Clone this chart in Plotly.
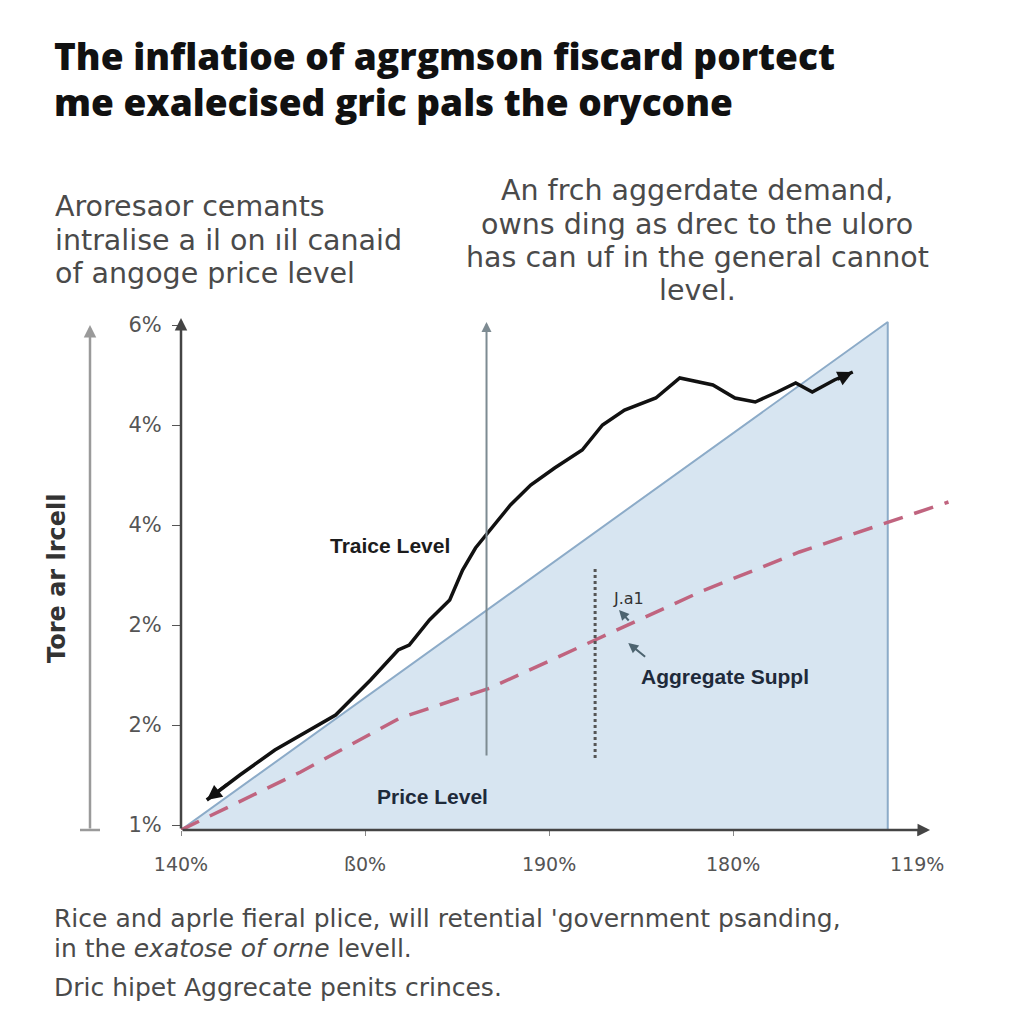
import plotly.graph_objects as go

# ---- data ----
x_ticks = [0, 1, 2, 3, 4]
x_labels = ["140%", "ß0%", "190%", "180%", "119%"]
y_ticks = [0, 1, 2, 3, 4, 5]
y_labels = ["1%", "2%", "2%", "4%", "4%", "6%"]

# black "Traice Level" curve
trace_x = [0.14, 0.32, 0.51, 0.65, 0.84, 1.03, 1.18, 1.24, 1.35, 1.46, 1.53, 1.60,
           1.69, 1.79, 1.90, 2.03, 2.18, 2.29, 2.41, 2.58, 2.71, 2.89, 3.01, 3.12,
           3.24, 3.34, 3.43, 3.55, 3.65]
trace_y = [0.25, 0.50, 0.75, 0.90, 1.10, 1.45, 1.75, 1.80, 2.05, 2.25, 2.55, 2.77,
           2.97, 3.20, 3.40, 3.57, 3.75, 4.00, 4.15, 4.27, 4.47, 4.40, 4.27, 4.23,
           4.33, 4.42, 4.33, 4.45, 4.53]

# dashed "Aggregate Supply" curve
supply_x = [0.0, 0.65, 1.19, 1.68, 2.25, 2.82, 3.36, 3.80, 4.17]
supply_y = [-0.05, 0.53, 1.07, 1.37, 1.85, 2.33, 2.73, 3.00, 3.23]

# shaded triangle
tri_x = [0.0, 3.84, 3.84, 0.0]
tri_y = [-0.05, 5.03, -0.05, -0.05]

title_lines = ["The inflatioe of agrgmson fiscard portect",
               "me exalecised gric pals the orycone"]
left_lines = ["Aroresaor cemants", "intralise a il on ıil canaid", "of angoge price level"]
right_lines = ["An frch aggerdate demand,", "owns ding as drec to the uloro",
               "has can uf in the general cannot", "level."]
foot_lines = ["Rice and aprle fieral plice, will retential 'government psanding,",
              "in the <i>exatose of orne</i> levell.",
              "Dric hipet Aggrecate penits crinces."]

# page has an 8px body margin; plot area in screen pixels
OFF = 8
L, T, W, H = 181, 315, 773, 515


def px(x):
    return (x - L) / W


def py(y):
    return (T + H - y) / H


fig = go.Figure()

fig.add_trace(go.Scatter(
    x=tri_x, y=tri_y, mode="lines", fill="toself",
    fillcolor="#d7e5f1", line=dict(color="#8cabc8", width=2),
    hoverinfo="skip", showlegend=False,
))
fig.add_trace(go.Scatter(
    x=supply_x, y=supply_y, mode="lines",
    line=dict(color="#c0647f", width=3.5, dash="20px,12px"),
    hoverinfo="skip", showlegend=False,
))
fig.add_trace(go.Scatter(
    x=trace_x, y=trace_y, mode="lines",
    line=dict(color="#111111", width=3.5),
    hoverinfo="skip", showlegend=False,
))
# vertical dotted line
fig.add_trace(go.Scatter(
    x=[2.25, 2.25], y=[0.67, 2.57], mode="lines",
    line=dict(color="#555555", width=3, dash="dot"),
    hoverinfo="skip", showlegend=False,
))

ann = []
arrow = dict(showarrow=True, text="", xref="x", yref="y", axref="x", ayref="y",
             arrowhead=2, arrowsize=1, arrowwidth=2.5)
# main axes
ann.append(dict(arrow, x=0, y=5.07, ax=0, ay=-0.05, arrowcolor="#444444"))
ann.append(dict(arrow, x=4.07, y=-0.05, ax=0, ay=-0.05, arrowcolor="#444444"))
# vertical gray arrow
ann.append(dict(arrow, x=1.66, y=5.03, ax=1.66, ay=0.68, arrowcolor="#7d8b92", arrowwidth=2))
# curve arrowheads
ann.append(dict(arrow, x=0.14, y=0.25, ax=0.26, ay=0.42, arrowcolor="#111111", arrowwidth=3))
ann.append(dict(arrow, x=3.65, y=4.53, ax=3.56, ay=4.45, arrowcolor="#111111", arrowwidth=3))
# small pointers near the supply label
ann.append(dict(arrow, x=2.43, y=1.82, ax=2.53, ay=1.67, arrowcolor="#4d6470", arrowwidth=2))
ann.append(dict(arrow, x=2.38, y=2.15, ax=2.44, ay=2.03, arrowcolor="#4d6470", arrowwidth=2))

# outer left arrow
ann.append(dict(showarrow=True, text="", xref="paper", yref="paper",
                x=px(90), y=py(325), ax=0, ay=505, arrowhead=2, arrowwidth=2.5,
                arrowcolor="#9a9a9a"))

gray = "#4a4a4a"
text_font = "DejaVu Sans"


def text_line(txt, x, y, size, color, family=text_font, anchor="left", weight=None):
    f = dict(family=family, size=size, color=color)
    if weight:
        f["weight"] = weight
    return dict(text=txt, x=px(x), y=py(y), xanchor=anchor, yanchor="middle",
                showarrow=False, xref="paper", yref="paper", font=f)


for txt, y in zip(title_lines, [55, 102]):
    ann.append(text_line(txt, 52, y, 37, "#111111", family="Open Sans", weight=800))
for txt, y in zip(left_lines, [206, 240, 273]):
    ann.append(text_line(txt, 53, y, 28.5, gray))
for txt, y in zip(right_lines, [190, 224, 257, 290]):
    ann.append(text_line(txt, 697, y, 28.5, gray, anchor="center"))
for txt, y in zip(foot_lines, [918, 948, 987]):
    ann.append(text_line(txt, 52, y, 25, gray))

ann += [
    dict(text="<b>Tore ar lrcell</b>", textangle=-90,
         x=px(57), y=py(578), xanchor="center", yanchor="middle",
         font=dict(family=text_font, size=24, color="#333333")),
    text_line("<b>Traice Level</b>", 390, 545, 21, "#1c1c1c",
              family="Liberation Sans Narrow, Liberation Sans", anchor="center"),
    text_line("<b>Price Level</b>", 432, 796, 21, "#1e2a3a",
              family="Liberation Sans Narrow, Liberation Sans", anchor="center"),
    text_line("<b>Aggregate Suppl</b>", 725, 676, 21, "#1e2a3a",
              family="Liberation Sans Narrow, Liberation Sans", anchor="center"),
    text_line("J.a1", 628, 598, 16, "#333333", anchor="center"),
]
for a in ann:
    a.setdefault("showarrow", False)
    if "xref" not in a:
        a["xref"] = "paper"
        a["yref"] = "paper"

fig.update_layout(
    width=1024, height=1024,
    margin=dict(l=L - OFF, r=1024 - L - W + OFF, t=T - OFF, b=1024 - T - H + OFF),
    paper_bgcolor="white", plot_bgcolor="white",
    showlegend=False,
    annotations=ann,
    shapes=[dict(type="line", xref="paper", yref="paper",
                 x0=px(80), x1=px(100), y0=py(830), y1=py(830),
                 line=dict(color="#9a9a9a", width=2.5))],
    xaxis=dict(range=[0, 4.2], tickvals=x_ticks, ticktext=x_labels,
               showgrid=False, zeroline=False, showline=False,
               ticks="outside", ticklen=5, tickcolor="#888888", ticklabelstandoff=12,
               tickfont=dict(family="DejaVu Sans", size=19, color="#555555")),
    yaxis=dict(range=[-0.05, 5.1], tickvals=y_ticks, ticktext=y_labels,
               showgrid=False, zeroline=False, showline=False,
               ticks="outside", ticklen=8, tickcolor="#555555", ticklabelstandoff=6,
               tickfont=dict(family=text_font, size=21, color="#555555")),
)

fig.write_html("out.html")
